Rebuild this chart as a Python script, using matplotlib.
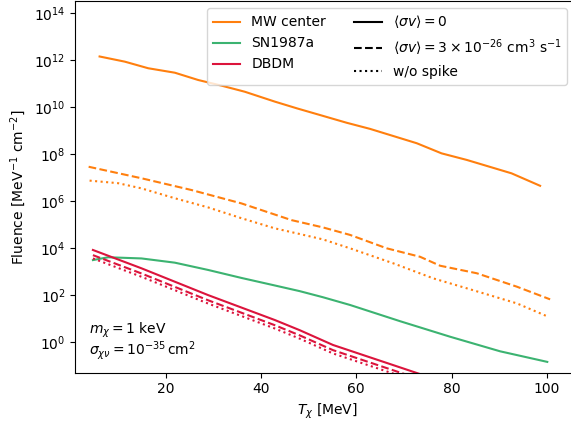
import numpy as np
import matplotlib
matplotlib.use("Agg")
import matplotlib.pyplot as plt
from matplotlib.lines import Line2D

# ---- data (log10 of fluence) ----
T_mw = [6.1, 11.4, 16.3, 21.9, 26.8, 31.7, 36.6, 42.9, 47.6, 51.7, 58.0, 62.9, 72.7, 77.9, 83.2, 92.6, 98.6]
mw_solid = [12.16, 11.94, 11.66, 11.47, 11.16, 10.92, 10.66, 10.24, 9.95, 9.71, 9.34, 9.08, 8.47, 8.04, 7.76, 7.19, 6.66]

T_mw_dash = [3.8, 14.9, 25.4, 35.9, 46.4, 53.0, 58.7, 66.4, 73.4, 77.6, 85.3, 93.7, 100.7]
mw_dash = [7.47, 6.98, 6.48, 5.91, 5.20, 4.89, 4.57, 4.00, 3.64, 3.26, 2.94, 2.37, 1.83]

T_mw_dot = [4.0, 10.0, 14.9, 21.9, 28.9, 35.9, 42.9, 48.1, 53.0, 58.7, 67.8, 76.2, 83.2, 93.7, 100.3]
mw_dot = [6.88, 6.77, 6.55, 6.13, 5.74, 5.28, 4.85, 4.61, 4.38, 4.00, 3.36, 2.72, 2.30, 1.66, 1.09]

T_sn = [4.7, 7.9, 14.9, 21.9, 28.9, 35.9, 42.9, 48.1, 53.0, 58.7, 69.2, 79.7, 90.2, 100.1]
sn_all = [3.50, 3.62, 3.57, 3.39, 3.08, 2.74, 2.42, 2.18, 1.92, 1.59, 0.90, 0.24, -0.38, -0.83]

T_db = [4.7, 14.9, 28.9, 42.9, 48.1, 55.1, 70.9, 80.0]
db_solid = [3.93, 3.15, 2.01, 0.95, 0.52, -0.11, -1.18, -1.80]
db_dash = [3.71, 2.93, 1.79, 0.73, 0.30, -0.33, -1.40, -2.02]
db_dot = [3.57, 2.79, 1.65, 0.59, 0.16, -0.47, -1.54, -2.16]

c_mw = '#ff7f0e'
c_sn = '#3cb371'
c_db = '#dc143c'

fig = plt.figure(figsize=(5.71, 4.26), dpi=100)
right_px = 580.0
ax = fig.add_axes([75.3/571, 53.3/426, (right_px-75.3)/571, (425-53.3)/426])

p = lambda a: 10**np.array(a)

ax.plot(T_mw, p(mw_solid), color=c_mw, ls='-', lw=1.5)
ax.plot(T_mw_dash, p(mw_dash), color=c_mw, ls='--', lw=1.5)
ax.plot(T_mw_dot, p(mw_dot), color=c_mw, ls=':', lw=1.5)

ax.plot(T_sn, p(sn_all), color=c_sn, ls='-', lw=1.5)

ax.plot(T_db, p(db_solid), color=c_db, ls='-', lw=1.5)
ax.plot(T_db, p(db_dash), color=c_db, ls='--', lw=1.5)
ax.plot(T_db, p(db_dot), color=c_db, ls=':', lw=1.5)

ax.set_yscale('log')
ax.set_xlim(1.0, (right_px - 70.8)/4.76)
ax.set_ylim(10**-1.29, 10**14.52)
ax.set_xticks([20, 40, 60, 80, 100])
ax.set_yticks([1e0, 1e2, 1e4, 1e6, 1e8, 1e10, 1e12, 1e14])
ax.yaxis.set_minor_locator(matplotlib.ticker.NullLocator())

ax.set_xlabel(r'$T_\chi$ [MeV]')
ax.set_ylabel(r'Fluence [MeV$^{-1}$ cm$^{-2}$]')

fig.text(89/571, (426 - 341.5)/426,
         r'$m_\chi = 1$ keV' + '\n' + r'$\sigma_{\chi\nu} = 10^{-35}\,$cm$^2$',
         va='center', ha='left', fontsize=10, linespacing=0.9)

handles = [
    Line2D([], [], color=c_mw, ls='-'),
    Line2D([], [], color=c_sn, ls='-'),
    Line2D([], [], color=c_db, ls='-'),
    Line2D([], [], color='k', ls='-'),
    Line2D([], [], color='k', ls='--'),
    Line2D([], [], color='k', ls=':'),
]
labels = ['MW center', 'SN1987a', 'DBDM',
          r'$\langle\sigma v\rangle = 0$',
          r'$\langle\sigma v\rangle = 3\times10^{-26}$ cm$^3$ s$^{-1}$',
          'w/o spike']
ax.legend(handles, labels, ncol=2, loc='upper right', fontsize=10,
          bbox_to_anchor=((567.3 + 6.9 - 75.3)/(right_px - 75.3), 1.0))

fig.savefig('out.png', dpi=100)
